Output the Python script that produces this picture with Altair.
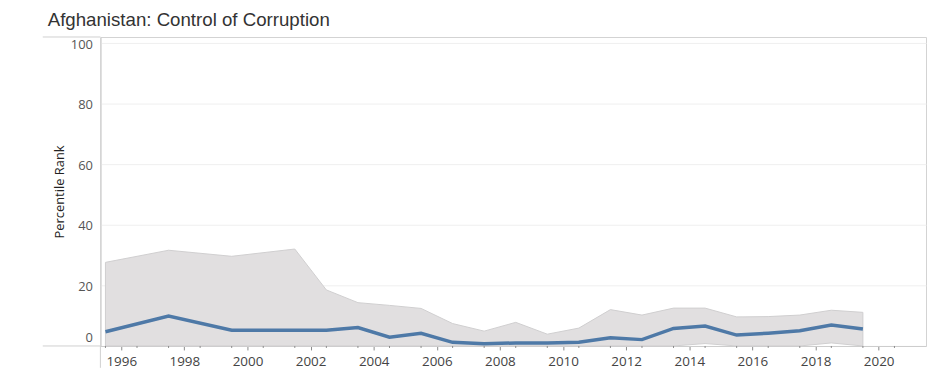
import altair as alt
import pandas as pd

# ---- data ----
years = [1996, 1998, 2000, 2002, 2003, 2004, 2005, 2006, 2007, 2008, 2009,
         2010, 2011, 2012, 2013, 2014, 2015, 2016, 2017, 2018, 2019, 2020]
rank = [4.7, 9.9, 5.2, 5.2, 5.2, 6.1, 2.9, 4.2, 1.2, 0.7, 1.0,
        1.0, 1.2, 2.7, 2.1, 5.8, 6.6, 3.6, 4.2, 5.0, 6.9, 5.6]
upper = [27.6, 31.6, 29.6, 32.0, 18.5, 14.3, 13.4, 12.4, 7.4, 4.9, 7.8,
         3.9, 5.9, 12.0, 10.2, 12.5, 12.5, 9.6, 9.7, 10.2, 11.8, 11.1]
lower = [0.0, 0.0, 0.0, 0.0, 0.0, 0.0, 0.0, 0.0, 0.0, 0.0, 0.0,
         0.0, 0.0, 0.0, 0.0, 0.0, 0.8, 0.0, 0.0, 0.0, 1.0, 0.0]
label_years = list(range(1996, 2022))          # one long tick per year
y_ticks = [0, 20, 40, 60, 80, 100]
title_text = "Afghanistan: Control of Corruption"

df = pd.DataFrame({"year": years, "rank": rank, "upper": upper, "lower": lower})
minor_df = pd.DataFrame({"yr": label_years})

W, H = 831, 311
FONT = "Open Sans"

x_scale = alt.Scale(domain=[1995.84, 2022.0], nice=False, zero=False)
y_scale = alt.Scale(domain=[0, 102], nice=False)

x_axis = alt.Axis(
    values=[y + 0.5 for y in label_years],
    labelExpr="(datum.value - 0.5) % 2 == 0 ? format(datum.value - 0.5, 'd') : ''",
    grid=False, tickSize=4, tickColor="#8a8a8a", domainColor="#cccccc",
    labelPadding=5, labelFont=FONT, labelFontSize=13.5, labelColor="#444444",
    title=None, labelOverlap=False,
)
y_axis = alt.Axis(
    values=y_ticks, ticks=False, domainColor="#cccccc", gridColor="#efefef",
    labelPadding=8, labelFont=FONT, labelFontSize=13, labelColor="#555555",
    labelOffset={"condition": {"test": "datum.value == 0", "value": -9}, "value": 1},
    title="Percentile Rank", titleFont=FONT, titleFontSize=13,
    titleFontWeight="normal", titleColor="#222222", titlePadding=4,
)

base = alt.Chart(df)

band = base.mark_area(color="#e1dfe0", stroke="#d0cfd0", strokeWidth=1).encode(
    x=alt.X("year:Q", scale=x_scale, axis=x_axis),
    y=alt.Y("upper:Q", scale=y_scale, axis=y_axis),
    y2="lower:Q",
)

line = base.mark_line(color="#4e79a7", strokeWidth=3.5).encode(
    x=alt.X("year:Q", scale=x_scale),
    y=alt.Y("rank:Q", scale=y_scale),
)

minor = alt.Chart(minor_df).mark_rule(color="#8a8a8a", strokeWidth=1).encode(
    x=alt.X("yr:Q", scale=x_scale),
    y=alt.value(H), y2=alt.value(H + 2),
)

one = alt.Data(values=[{"k": 1}])
frame_col = "#d0d0d0"
ext_bottom = alt.Chart(one).mark_rule(color=frame_col, strokeWidth=1).encode(
    x=alt.value(-58), x2=alt.value(0), y=alt.value(H))
ext_top = alt.Chart(one).mark_rule(color=frame_col, strokeWidth=1).encode(
    x=alt.value(-58), x2=alt.value(0), y=alt.value(0))
ext_left = alt.Chart(one).mark_rule(color=frame_col, strokeWidth=1).encode(
    x=alt.value(0), y=alt.value(H), y2=alt.value(H + 22))

title = alt.Chart(one).mark_text(
    text=title_text, align="left", baseline="alphabetic",
    font="Liberation Sans", fontSize=18.8, color="#333333",
).encode(x=alt.value(-53), y=alt.value(-11))

chart = alt.layer(band, line, minor, ext_bottom, ext_top, ext_left, title).properties(
    width=W, height=H,
    autosize=alt.AutoSizeParams(type="none"),
    padding={"left": 93, "top": 28, "right": 2, "bottom": 22},
).configure_view(stroke="#d3d3d3", strokeWidth=1)

chart.save("out.html", embed_options={"renderer": "svg", "actions": False})
